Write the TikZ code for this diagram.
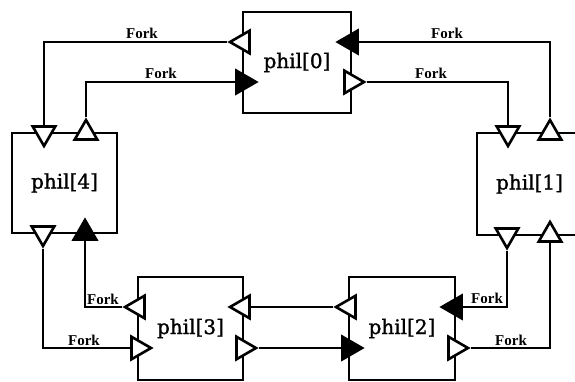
\documentclass[tikz,border=0pt]{standalone}
\usepackage{fontspec}
\setmainfont{DejaVu Serif}
\newfontfamily\forkfont{Liberation Serif}
\newfontfamily\philfont[FakeBold=1.2]{DejaVu Serif}
\usetikzlibrary{shapes.geometric}
\begin{document}
\begin{tikzpicture}[x=1pt,y=-1pt,
  wire/.style={line width=2.8pt, line join=miter},
  phbox/.style={draw, line width=2.8pt, inner sep=0, font=\philfont\fontsize{20}{20}\selectfont},
  tri/.style={regular polygon, regular polygon sides=3, minimum size=26pt, inner sep=0pt, draw, line width=2.6pt, fill=white},
  trif/.style={tri, fill=black},
  pu/.style={shape border rotate=0}, pd/.style={shape border rotate=180},
  pl/.style={shape border rotate=90}, pr/.style={shape border rotate=-90},
  lbl/.style={font=\forkfont\fontsize{15}{15}\selectfont\bfseries, inner sep=0pt, anchor=south}]
\clip (0,0) rectangle (575,381);
\fill[white] (0,0) rectangle (575,381);
% boxes
\node[phbox, minimum width=108pt, minimum height=101pt] (p0) at (297,62.5) {phil[0]};
\node[phbox, minimum width=105pt, minimum height=100pt] (p4) at (64.5,183) {phil[4]};
\node[phbox, minimum width=105pt, minimum height=102pt] (p1) at (529.5,184) {phil[1]};
\node[phbox, minimum width=105pt, minimum height=103pt] (p3) at (190.5,328.5) {phil[3]};
\node[phbox, minimum width=106pt, minimum height=103pt] (p2) at (402,328.5) {phil[2]};
% triangles
\node[tri,pl]  (t0L1) at (243,42) {};
\node[trif,pr] (t0L2) at (243,82) {};
\node[trif,pl] (t0R1) at (351,42) {};
\node[tri,pr]  (t0R2) at (351,82) {};
\node[tri,pd]  (t4T1) at (44,133) {};
\node[tri,pu]  (t4T2) at (86,133) {};
\node[tri,pd]  (t1T1) at (508,133) {};
\node[tri,pu]  (t1T2) at (550,133) {};
\node[tri,pd]  (t4B1) at (43,233) {};
\node[trif,pu] (t4B2) at (85,233) {};
\node[tri,pl]  (t3L1) at (138,307) {};
\node[tri,pr]  (t3L2) at (138,348) {};
\node[tri,pl]  (t3R1) at (243,307) {};
\node[tri,pr]  (t3R2) at (243,348) {};
\node[tri,pl]  (t2L1) at (349,307) {};
\node[trif,pr] (t2L2) at (349,348) {};
\node[trif,pl] (t2R1) at (455,307) {};
\node[tri,pr]  (t2R2) at (455,348) {};
\node[tri,pd]  (t1B1) at (507,235) {};
\node[tri,pu]  (t1B2) at (550,235) {};
% wires
\draw[wire] (t0L1.corner 1) -| (t4T1.side 2);
\draw[wire] (t0L2.side 2) -| (t4T2.corner 1);
\draw[wire] (t0R1.side 2) -| (t1T2.corner 1);
\draw[wire] (t0R2.corner 1) -| (t1T1.side 2);
\draw[wire] (t4B1.corner 1) |- (t3L2.side 2);
\draw[wire] (t4B2.side 2) |- (t3L1.corner 1);
\draw[wire] (t3R1.side 2) -- (t2L1.corner 1);
\draw[wire] (t3R2.corner 1) -- (t2L2.side 2);
\draw[wire] (t2R1.side 2) -| (t1B1.corner 1);
\draw[wire] (t2R2.corner 1) -| (t1B2.side 2);
% labels
\node[lbl] (f1) at (142,39) {Fork};
\node[lbl] (f2) at (161,79) {Fork};
\node[lbl] (f3) at (447,39) {Fork};
\node[lbl] (f4) at (431,79) {Fork};
\node[lbl] (f5) at (103,305) {Fork};
\node[lbl] (f6) at (84,346) {Fork};
\node[lbl] (f7) at (487,304) {Fork};
\node[lbl] (f8) at (511,346) {Fork};
\end{tikzpicture}
\end{document}
